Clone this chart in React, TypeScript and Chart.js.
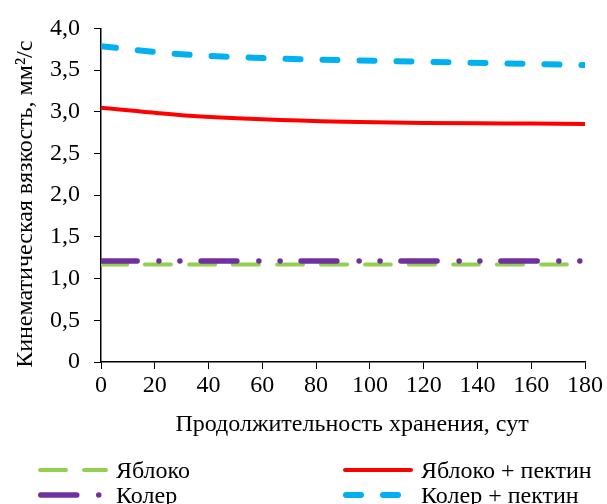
import React, { useEffect, useRef } from 'react';
import { Chart, registerables } from 'chart.js';

Chart.register(...registerables);

const days = [0, 30, 60, 90, 120, 150, 180];
const apple = [1.17, 1.17, 1.17, 1.17, 1.17, 1.17, 1.17];
const applePectin = [3.05, 2.96, 2.91, 2.88, 2.865, 2.86, 2.855];
const koler = [1.21, 1.21, 1.21, 1.21, 1.21, 1.21, 1.21];
const kolerPectin = [3.785, 3.69, 3.645, 3.62, 3.6, 3.58, 3.56];

const seriesLabels = ['Яблоко', 'Яблоко + пектин', 'Колер', 'Колер + пектин'];
const yTickLabels = ['0', '0,5', '1,0', '1,5', '2,0', '2,5', '3,0', '3,5', '4,0'];
const xTickLabels = ['0', '20', '40', '60', '80', '100', '120', '140', '160', '180'];

const FONT = "'Liberation Serif', 'Times New Roman', serif";
const FS = 24;

const legendPlugin = {
  id: 'gridLegend',
  afterDraw(chart: any) {
    const ctx = chart.ctx;
    const colX = [38, 343];
    const rowY = [470, 495];
    const sampleLen = 70;
    ctx.save();
    chart.data.datasets.forEach((ds: any) => {
      const slot = ds.legendSlot as number;
      const x0 = colX[slot % 2];
      const y = rowY[Math.floor(slot / 2)];
      const w = ds.borderWidth;
      ctx.beginPath();
      ctx.strokeStyle = ds.borderColor;
      ctx.lineWidth = w;
      ctx.lineCap = ds.borderCapStyle || 'butt';
      ctx.setLineDash(ds.borderDash || []);
      ctx.lineDashOffset = 0;
      const off = ctx.lineCap === 'round' ? w / 2 : 0;
      ctx.moveTo(x0 + off, y);
      ctx.lineTo(x0 + sampleLen - off, y);
      ctx.stroke();
      ctx.setLineDash([]);
      ctx.fillStyle = '#000';
      ctx.font = `${FS}px ${FONT}`;
      ctx.textBaseline = 'middle';
      ctx.textAlign = 'left';
      ctx.fillText(ds.label, x0 + sampleLen + 8, y + 2);
    });
    ctx.restore();
  },
};

export default function App() {
  const ref = useRef<HTMLCanvasElement | null>(null);

  useEffect(() => {
    document.body.style.margin = '0';
    const canvas = ref.current;
    if (!canvas) return;
    const mk = (vals: number[]) => days.map((d, i) => ({ x: d, y: vals[i] }));
    const chart = new Chart(canvas, {
      type: 'line',
      data: {
        datasets: [
          {
            label: seriesLabels[2],
            data: mk(koler),
            borderColor: '#7030A0',
            borderWidth: 5.5,
            borderDash: [36, 22, 0, 21, 0, 21],
            borderCapStyle: 'round',
            pointRadius: 0,
            tension: 0.4,
            legendSlot: 2,
          } as any,
          {
            label: seriesLabels[0],
            data: mk(apple),
            borderColor: '#92D050',
            borderWidth: 4,
            borderDash: [26, 18],
            borderCapStyle: 'round',
            pointRadius: 0,
            tension: 0.4,
            legendSlot: 0,
          } as any,
          {
            label: seriesLabels[3],
            data: mk(kolerPectin),
            borderColor: '#00B0F0',
            borderWidth: 6,
            borderDash: [15, 22],
            borderCapStyle: 'round',
            pointRadius: 0,
            tension: 0.4,
            cubicInterpolationMode: 'monotone',
            legendSlot: 3,
          } as any,
          {
            label: seriesLabels[1],
            data: mk(applePectin),
            borderColor: '#FF0000',
            borderWidth: 4,
            borderCapStyle: 'round',
            pointRadius: 0,
            tension: 0.4,
            cubicInterpolationMode: 'monotone',
            legendSlot: 1,
          } as any,
        ],
      },
      options: {
        animation: false,
        responsive: false,
        maintainAspectRatio: false,
        layout: { padding: { top: 22, right: 22, bottom: 62, left: 0 } },
        plugins: {
          legend: { display: false },
          tooltip: { enabled: false },
        },
        scales: {
          x: {
            type: 'linear',
            min: 0,
            max: 180,
            ticks: {
              stepSize: 20,
              color: '#000',
              font: { family: FONT, size: FS },
              padding: 2,
              maxRotation: 0,
              autoSkip: false,
              callback: (v: any) => xTickLabels[Math.round(Number(v) / 20)],
            },
            grid: {
              display: true,
              drawOnChartArea: false,
              drawTicks: true,
              tickLength: 7,
              color: '#000',
            },
            border: { display: true, color: '#000', width: 1.5 },
            title: {
              display: true,
              text: '   Продолжительность хранения, сут',
              color: '#000',
              font: { family: FONT, size: FS },
              padding: { top: 0, bottom: 3 },
            },
            afterFit: (scale: any) => {
              scale.height = 80;
            },
          },
          y: {
            type: 'linear',
            min: 0,
            max: 4,
            ticks: {
              stepSize: 0.5,
              color: '#000',
              font: { family: FONT, size: FS },
              padding: 14,
              autoSkip: false,
              callback: (v: any) => yTickLabels[Math.round(Number(v) / 0.5)],
            },
            grid: {
              display: true,
              drawOnChartArea: false,
              drawTicks: true,
              tickLength: 7,
              color: '#000',
            },
            border: { display: true, color: '#000', width: 1.5 },
            title: {
              display: true,
              text: 'Кинематическая вязкость, мм²/с   ',
              color: '#000',
              font: { family: FONT, size: FS },
              padding: { top: 11, bottom: 0 },
            },
            afterFit: (scale: any) => {
              scale.width = 101;
            },
          },
        },
      } as any,
      plugins: [legendPlugin],
    });
    return () => chart.destroy();
  }, []);

  return (
    <div style={{ width: 607, height: 504 }}>
      <canvas ref={ref} width={607} height={504} style={{ display: 'block' }} />
    </div>
  );
}
